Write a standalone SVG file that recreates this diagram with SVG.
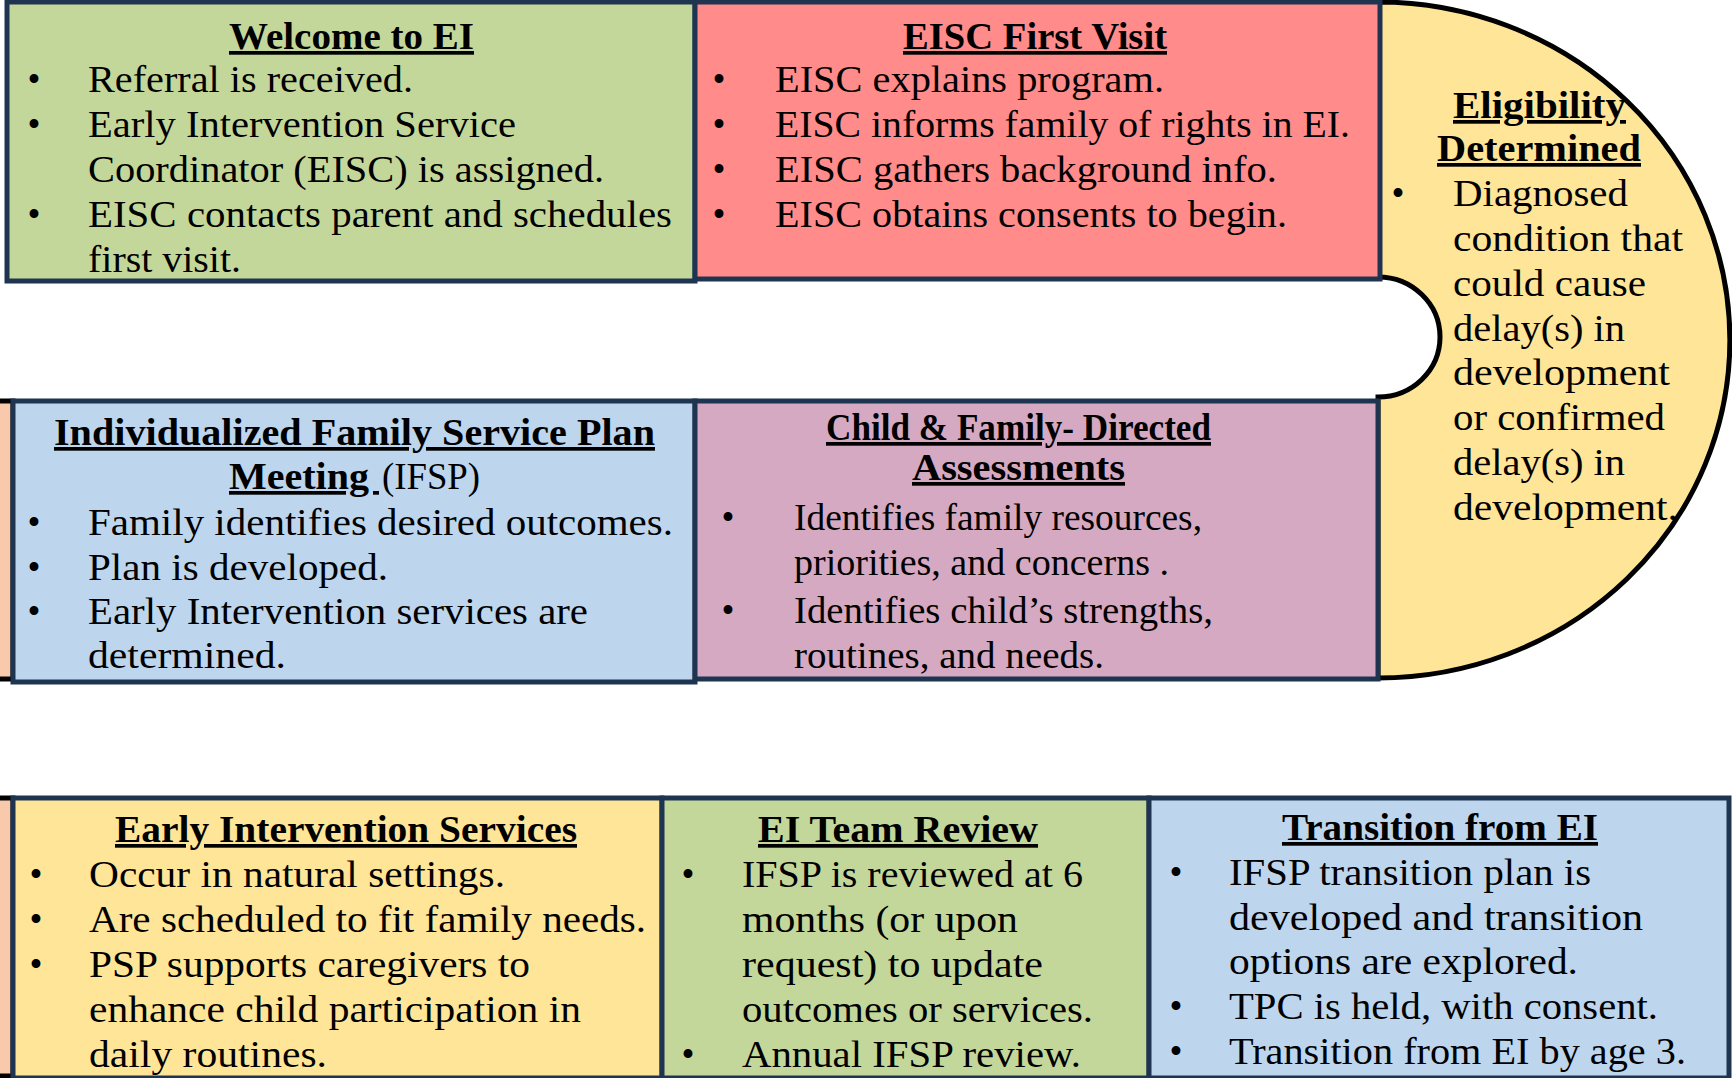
<svg xmlns="http://www.w3.org/2000/svg" width="1732" height="1078" viewBox="0 0 1732 1078">
<style>
.box{stroke:#1F3451;stroke-width:5}
.g{fill:#C4D79B}.p{fill:#FF8B8B}.y{fill:#FFE597}.b{fill:#BDD6EE}.m{fill:#D5A9C1}
.edge{fill:#F8CAAB;stroke:#000;stroke-width:5}
text{font-family:"Liberation Serif","Times New Roman",serif;font-size:37px;fill:#000}
.t{font-weight:bold;text-decoration:underline}
.bu{text-anchor:middle}
</style>
<rect width="1732" height="1078" fill="#fff"/>
<g id="eligibility">
<path d="M1378,2 A352,338 0 0 1 1378,678 L1378,397 A62,60 0 0 0 1378,277 Z" fill="#FFE597" stroke="#000" stroke-width="5"/>
<text class="t" x="1453" y="118" textLength="173" lengthAdjust="spacingAndGlyphs">Eligibility</text>
<text class="t" x="1437" y="161" textLength="204" lengthAdjust="spacingAndGlyphs">Determined</text>
<text class="bu" x="1398" y="206">•</text>
<text x="1453" y="206" textLength="175" lengthAdjust="spacingAndGlyphs">Diagnosed</text>
<text x="1453" y="251" textLength="230" lengthAdjust="spacingAndGlyphs">condition that</text>
<text x="1453" y="296" textLength="193" lengthAdjust="spacingAndGlyphs">could cause</text>
<text x="1453" y="341" textLength="172" lengthAdjust="spacingAndGlyphs">delay(s) in</text>
<text x="1453" y="385" textLength="217" lengthAdjust="spacingAndGlyphs">development</text>
<text x="1453" y="430" textLength="212" lengthAdjust="spacingAndGlyphs">or confirmed</text>
<text x="1453" y="475" textLength="172" lengthAdjust="spacingAndGlyphs">delay(s) in</text>
<text x="1453" y="520" textLength="225" lengthAdjust="spacingAndGlyphs">development.</text>
</g>
<g id="loop-left">
<path class="edge" d="M-5,401 H13 V679 H-5"/>
<path class="edge" d="M-5,798 H13 V1076 H-5"/>
</g>
<g id="welcome">
<rect class="box g" x="7" y="2" width="688" height="279"/>
<text class="t" x="229" y="49" textLength="245" lengthAdjust="spacingAndGlyphs">Welcome to EI</text>
<text class="bu" x="34" y="92">•</text>
<text x="88" y="92" textLength="325" lengthAdjust="spacingAndGlyphs">Referral is received.</text>
<text class="bu" x="34" y="137">•</text>
<text x="88" y="137" textLength="428" lengthAdjust="spacingAndGlyphs">Early Intervention Service</text>
<text x="88" y="182" textLength="516" lengthAdjust="spacingAndGlyphs">Coordinator (EISC) is assigned.</text>
<text class="bu" x="34" y="227">•</text>
<text x="88" y="227" textLength="584" lengthAdjust="spacingAndGlyphs">EISC contacts parent and schedules</text>
<text x="88" y="272" textLength="153" lengthAdjust="spacingAndGlyphs">first visit.</text>
</g>
<g id="first-visit">
<rect class="box p" x="695" y="2" width="685" height="277"/>
<text class="t" x="903" y="49" textLength="264" lengthAdjust="spacingAndGlyphs">EISC First Visit</text>
<text class="bu" x="719" y="92">•</text>
<text x="775" y="92" textLength="389" lengthAdjust="spacingAndGlyphs">EISC explains program.</text>
<text class="bu" x="719" y="137">•</text>
<text x="775" y="137" textLength="575" lengthAdjust="spacingAndGlyphs">EISC informs family of rights in EI.</text>
<text class="bu" x="719" y="182">•</text>
<text x="775" y="182" textLength="502" lengthAdjust="spacingAndGlyphs">EISC gathers background info.</text>
<text class="bu" x="719" y="227">•</text>
<text x="775" y="227" textLength="512" lengthAdjust="spacingAndGlyphs">EISC obtains consents to begin.</text>
</g>
<g id="ifsp-meeting">
<rect class="box b" x="13" y="401" width="682" height="281"/>
<text class="t" x="54" y="445" textLength="601" lengthAdjust="spacingAndGlyphs">Individualized Family Service Plan</text>
<text class="t" x="229" y="489" textLength="150" lengthAdjust="spacingAndGlyphs">Meeting&#160;</text>
<text x="382" y="489" textLength="98" lengthAdjust="spacingAndGlyphs">(IFSP)</text>
<text class="bu" x="34" y="535">•</text>
<text x="88" y="535" textLength="585" lengthAdjust="spacingAndGlyphs">Family identifies desired outcomes.</text>
<text class="bu" x="34" y="580">•</text>
<text x="88" y="580" textLength="300" lengthAdjust="spacingAndGlyphs">Plan is developed.</text>
<text class="bu" x="34" y="624">•</text>
<text x="88" y="624" textLength="500" lengthAdjust="spacingAndGlyphs">Early Intervention services are</text>
<text x="88" y="668" textLength="198" lengthAdjust="spacingAndGlyphs">determined.</text>
</g>
<g id="assessments">
<rect class="box m" x="695" y="401" width="683" height="278"/>
<text class="t" x="826" y="440" textLength="385" lengthAdjust="spacingAndGlyphs">Child &amp; Family- Directed</text>
<text class="t" x="912" y="480" textLength="213" lengthAdjust="spacingAndGlyphs">Assessments</text>
<text class="bu" x="728" y="530">•</text>
<text x="794" y="530" textLength="408" lengthAdjust="spacingAndGlyphs">Identifies family resources,</text>
<text x="794" y="575" textLength="375" lengthAdjust="spacingAndGlyphs">priorities, and concerns .</text>
<text class="bu" x="728" y="623">•</text>
<text x="794" y="623" textLength="419" lengthAdjust="spacingAndGlyphs">Identifies child’s strengths,</text>
<text x="794" y="668" textLength="310" lengthAdjust="spacingAndGlyphs">routines, and needs.</text>
</g>
<g id="ei-services">
<rect class="box y" x="13" y="798" width="649" height="280"/>
<text class="t" x="115" y="842" textLength="462" lengthAdjust="spacingAndGlyphs">Early Intervention Services</text>
<text class="bu" x="36" y="887">•</text>
<text x="89" y="887" textLength="416" lengthAdjust="spacingAndGlyphs">Occur in natural settings.</text>
<text class="bu" x="36" y="932">•</text>
<text x="89" y="932" textLength="557" lengthAdjust="spacingAndGlyphs">Are scheduled to fit family needs.</text>
<text class="bu" x="36" y="977">•</text>
<text x="89" y="977" textLength="441" lengthAdjust="spacingAndGlyphs">PSP supports caregivers to</text>
<text x="89" y="1022" textLength="492" lengthAdjust="spacingAndGlyphs">enhance child participation in</text>
<text x="89" y="1067" textLength="238" lengthAdjust="spacingAndGlyphs">daily routines.</text>
</g>
<g id="team-review">
<rect class="box g" x="662" y="798" width="487" height="280"/>
<text class="t" x="758" y="842" textLength="280" lengthAdjust="spacingAndGlyphs">EI Team Review</text>
<text class="bu" x="688" y="887">•</text>
<text x="742" y="887" textLength="341" lengthAdjust="spacingAndGlyphs">IFSP is reviewed at 6</text>
<text x="742" y="932" textLength="276" lengthAdjust="spacingAndGlyphs">months (or upon</text>
<text x="742" y="977" textLength="301" lengthAdjust="spacingAndGlyphs">request) to update</text>
<text x="742" y="1022" textLength="351" lengthAdjust="spacingAndGlyphs">outcomes or services.</text>
<text class="bu" x="688" y="1067">•</text>
<text x="742" y="1067" textLength="339" lengthAdjust="spacingAndGlyphs">Annual IFSP review.</text>
</g>
<g id="transition">
<rect class="box b" x="1149" y="798" width="580" height="280"/>
<text class="t" x="1282" y="840" textLength="316" lengthAdjust="spacingAndGlyphs">Transition from EI</text>
<text class="bu" x="1176" y="885">•</text>
<text x="1229" y="885" textLength="362" lengthAdjust="spacingAndGlyphs">IFSP transition plan is</text>
<text x="1229" y="930" textLength="414" lengthAdjust="spacingAndGlyphs">developed and transition</text>
<text x="1229" y="974" textLength="349" lengthAdjust="spacingAndGlyphs">options are explored.</text>
<text class="bu" x="1176" y="1019">•</text>
<text x="1229" y="1019" textLength="429" lengthAdjust="spacingAndGlyphs">TPC is held, with consent.</text>
<text class="bu" x="1176" y="1064">•</text>
<text x="1229" y="1064" textLength="457" lengthAdjust="spacingAndGlyphs">Transition from EI by age 3.</text>
</g>
<g id="connectors"></g>
</svg>
